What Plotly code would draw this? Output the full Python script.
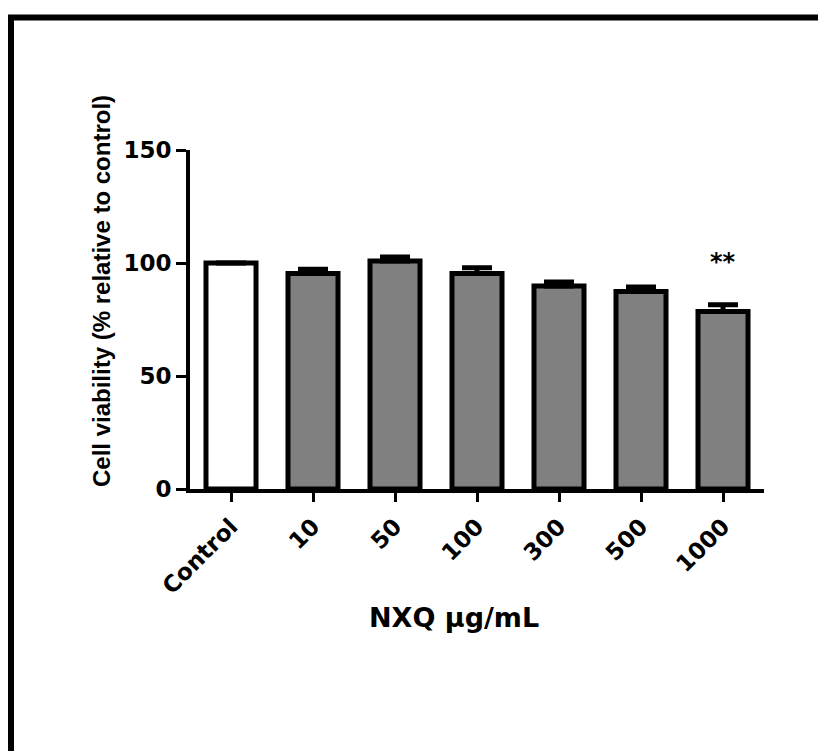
import plotly.graph_objects as go

categories = ["Control", "10", "50", "100", "300", "500", "1000"]
values = [100.0, 95.4, 100.9, 95.4, 89.8, 87.4, 78.5]
errors = [0.0, 1.8, 1.7, 2.5, 1.8, 2.0, 3.0]
bar_colors = ["#ffffff"] + ["#808080"] * 6
y_ticks = [0, 50, 100, 150]

W, H = 818, 751
L, R, T, B = 190, 54, 150, 262
pw, ph = W - L - R, H - T - B

def px2paper_x(px):
    return (px - L) / pw

def px2paper_y(py):
    return (H - B - py) / ph

fig = go.Figure()
fig.add_trace(go.Bar(
    x=categories, y=values, width=0.61,
    marker=dict(color=bar_colors, line=dict(color="black", width=5)),
    error_y=dict(type="data", symmetric=False, array=errors,
                 arrayminus=[0] * len(errors), color="black",
                 thickness=5, width=15),
    showlegend=False,
))

tick_font = dict(family="DejaVu Sans", size=23, color="black", weight="bold")

fig.update_layout(
    width=W, height=H,
    margin=dict(l=L, r=R, t=T, b=B, pad=0),
    paper_bgcolor="white", plot_bgcolor="white",
    xaxis=dict(type="category", range=[-0.5, 6.5], showline=True, linecolor="black", linewidth=4,
               ticks="outside", ticklen=9, tickwidth=3, tickcolor="black",
               tickangle=-45, tickfont=tick_font, showgrid=False, zeroline=False,
               ticklabelstandoff=2),
    yaxis=dict(range=[0, 150], tickvals=y_ticks, showline=True, linecolor="black",
               linewidth=4, ticks="outside", ticklen=10, tickwidth=3,
               tickcolor="black", tickfont=tick_font, showgrid=False,
               zeroline=False, ticklabelstandoff=0),
    bargap=0.39,
)

# significance marker above the last bar
fig.add_annotation(x=len(categories) - 1, y=values[-1] + errors[-1] + 19, text="**",
                   showarrow=False, xref="x", yref="y",
                   font=dict(family="DejaVu Sans", size=24, color="black", weight="bold"))

# axis titles
fig.add_annotation(x=px2paper_x(101), y=px2paper_y(291), xref="paper", yref="paper",
                   text="Cell viability (% relative to control)", textangle=-90,
                   showarrow=False, xanchor="center", yanchor="middle",
                   font=dict(family="Liberation Sans, Arial", size=24, color="black", weight="bold"))
fig.add_annotation(x=px2paper_x(454), y=px2paper_y(617), xref="paper", yref="paper",
                   text="NXQ \u03bcg/mL", showarrow=False, xanchor="center", yanchor="middle",
                   font=dict(family="DejaVu Sans", size=27, color="black", weight="bold"))

# outer frame (left and top edges)
x_left = px2paper_x(11)
y_top = px2paper_y(17.5)
fig.add_shape(type="path", xref="paper", yref="paper",
              path=f"M {x_left},{px2paper_y(760)} L {x_left},{y_top} L {px2paper_x(830)},{y_top}",
              line=dict(color="black", width=6), layer="above")

fig.write_html("out.html")
